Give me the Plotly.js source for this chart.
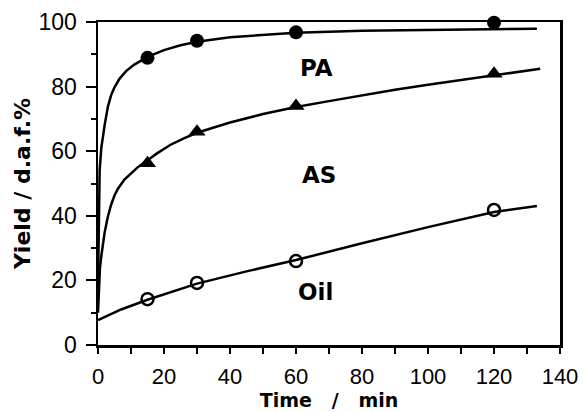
<!DOCTYPE html>
<html>
<head>
<meta charset="utf-8">
<script src="https://cdn.plot.ly/plotly-3.0.1.min.js"></script>
<style>html,body{margin:0;padding:0;background:#fff;}</style>
</head>
<body>
<div id="chart" style="width:585px;height:412px;"></div>
<script>
// Measured points
const timePts = [15, 30, 60, 120];
const paPts = [88.9, 94.2, 96.8, 99.8];
const asPts = [56.3, 66.0, 74.0, 84.0];
const oilPts = [14.2, 19.2, 26.0, 41.8];

// Fitted curves
const paCurveX = [0, 0.1, 0.25, 0.5, 1, 1.5, 2, 3, 4, 5, 6.5, 8.5, 11, 15, 20, 25, 30, 40, 50, 60, 80, 100, 120, 133];
const paCurveY = [18, 30, 44, 54, 61, 65, 68, 73.8, 77.4, 79.8, 82.4, 84.8, 86.8, 89.2, 91.3, 92.8, 93.9, 95.3, 96.1, 96.7, 97.3, 97.6, 97.8, 97.9];
const asCurveX = [0, 0.3, 0.6, 1, 1.5, 2, 3, 4, 5, 6, 8, 10, 12, 15, 18, 22, 26, 30, 35, 40, 50, 60, 70, 80, 90, 100, 110, 120, 134];
const asCurveY = [10, 20, 24, 27.5, 31.5, 34.8, 39.8, 43.5, 46.3, 48.3, 51.2, 53.2, 55, 57.2, 59.4, 62, 64, 65.7, 67.4, 68.9, 71.5, 73.7, 75.5, 77.3, 79, 80.6, 82.1, 83.6, 85.5];
const oilCurveX = [0, 7, 15, 30, 45, 60, 80, 100, 120, 133];
const oilCurveY = [7.7, 11, 14, 19, 22.8, 26.3, 31.5, 36.5, 41.2, 43];

const labelText = ['PA', 'AS', 'Oil'];
const labelX = [66.3, 67.1, 65.8];
const labelY = [85.7, 52.6, 16.5];

const nb = '\u00a0';
const xTitle = 'Time' + nb.repeat(3) + '/' + nb.repeat(3) + 'min' + nb.repeat(3);
const yTitle = 'Yield / d.a.f.%' + nb.repeat(2);

const lineStyle = {color: '#000', width: 2.5, shape: 'linear'};

const traces = [
  {x: paCurveX, y: paCurveY, mode: 'lines', line: lineStyle, hoverinfo: 'skip', cliponaxis: false},
  {x: asCurveX, y: asCurveY, mode: 'lines', line: lineStyle, hoverinfo: 'skip', cliponaxis: false},
  {x: oilCurveX, y: oilCurveY, mode: 'lines', line: lineStyle, hoverinfo: 'skip', cliponaxis: false},
  {x: timePts, y: paPts, mode: 'markers', cliponaxis: false,
   marker: {symbol: 'circle', size: 14, color: '#000'}},
  {x: timePts, y: asPts, mode: 'markers', cliponaxis: false,
   marker: {symbol: 'triangle-up', size: 15, color: '#000'}},
  {x: timePts, y: oilPts, mode: 'markers', cliponaxis: false,
   marker: {symbol: 'circle-open', size: 12, color: '#000', line: {width: 2.5, color: '#000'}}}
];

const annotations = labelText.map((t, i) => ({
  x: labelX[i], y: labelY[i], xref: 'x', yref: 'y', text: t, showarrow: false,
  font: {family: 'DejaVu Sans', size: 23, color: '#000', weight: 'bold'}
}));

const layout = {
  width: 585, height: 412,
  margin: {l: 98, r: 25, t: 22, b: 67},
  paper_bgcolor: '#fff', plot_bgcolor: '#fff',
  showlegend: false,
  font: {family: 'Liberation Sans, Arial', color: '#000'},
  xaxis: {
    range: [0, 140], dtick: 20, tick0: 0,
    ticks: 'outside', ticklen: 6, tickwidth: 2, tickcolor: '#000',
    minor: {dtick: 10, ticks: 'outside', ticklen: 6, tickwidth: 2, tickcolor: '#000'},
    showline: true, linewidth: 2.5, linecolor: '#000', mirror: true,
    showgrid: false, zeroline: false,
    tickfont: {family: 'Liberation Sans', size: 22, color: '#000'},
    ticklabelstandoff: 4,
    title: {text: xTitle, standoff: 0,
      font: {family: 'DejaVu Sans', size: 19, color: '#000', weight: 'bold'}}
  },
  yaxis: {
    range: [0, 100], dtick: 20, tick0: 0,
    ticks: 'outside', ticklen: 10, tickwidth: 2, tickcolor: '#000',
    minor: {dtick: 10, ticks: 'outside', ticklen: 5, tickwidth: 2, tickcolor: '#000'},
    showline: true, linewidth: 2.5, linecolor: '#000', mirror: true,
    showgrid: false, zeroline: false,
    tickfont: {family: 'Liberation Sans', size: 23, color: '#000'},
    ticklabelstandoff: 4,
    title: {text: yTitle, standoff: 2,
      font: {family: 'DejaVu Sans', size: 22, color: '#000', weight: 'bold'}}
  },
  annotations: annotations
};

Plotly.newPlot('chart', traces, layout, {staticPlot: true, displayModeBar: false});
</script>
</body>
</html>
